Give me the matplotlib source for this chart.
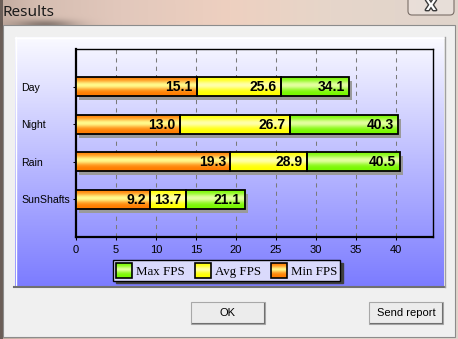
import numpy as np
import matplotlib
matplotlib.use('Agg')
import matplotlib.pyplot as plt
from matplotlib.patches import Rectangle, FancyBboxPatch, Patch
from matplotlib.legend_handler import HandlerBase
import matplotlib.transforms as mtransforms
import matplotlib.patheffects as pe

# ---------------- data ----------------
categories = ['Day', 'Night', 'Rain', 'SunShafts']
min_fps = [15.1, 13.0, 19.3, 9.2]
avg_fps = [25.6, 26.7, 28.9, 13.7]
max_fps = [34.1, 40.3, 40.5, 21.1]
x_ticks = [0, 5, 10, 15, 20, 25, 30, 35, 40]
series_labels = ['Max FPS', 'Avg FPS', 'Min FPS']
window_title = 'Results'
button_labels = ['OK', 'Send report']

# ---------------- styles ----------------
W, H = 458, 339
C_MIN = ((255, 125, 0), (255, 250, 140))
C_AVG = ((255, 255, 0), (255, 255, 170))
C_MAX = ((120, 248, 0), (228, 255, 160))


def grad_colors(edge, center, n=40):
    t = np.linspace(0, 1, n)
    f = np.exp(-((t - 0.42) / 0.24) ** 2)
    e = np.array(edge) / 255.0
    c = np.array(center) / 255.0
    return e[None, :] + (c - e)[None, :] * f[:, None]


fig = plt.figure(figsize=(W / 100, H / 100), dpi=100)

# ---------------- window chrome ----------------
bg = fig.add_axes([0, 0, 1, 1])
bg.set_xlim(0, W)
bg.set_ylim(H, 0)
bg.axis('off')

xs = np.arange(W)
cx = [0, 40, 120, 230, 330, 458]
img = np.zeros((H, W, 3))
for k, vals in enumerate(([195, 214, 226, 238, 230, 224],
                          [172, 190, 200, 208, 214, 212],
                          [160, 178, 188, 192, 202, 204])):
    img[:, :, k] = np.interp(xs, cx, vals)[None, :] / 255.0
yy, xx = np.mgrid[0:H, 0:W]
blob = np.exp(-(((xx - 45) / 30.0) ** 2 + ((yy - 24) / 5.0) ** 2))
img *= (1 - 0.35 * blob)[:, :, None]
img[:, :3, :] *= 0.55
img = np.clip(img, 0, 1)
bg.imshow(img, extent=(0, W, H, 0), aspect='auto', zorder=0)

bg.add_patch(Rectangle((3, 25), 452, 312, facecolor='#f0f0f0',
                       edgecolor='#8c8c8c', lw=0.8, zorder=1))

# close button
bg.add_patch(FancyBboxPatch((408, -8), 46, 23, boxstyle='round,pad=0,rounding_size=4',
                            facecolor=(1, 1, 1, 0.25), edgecolor='#7a6e68', lw=0.8, zorder=1))
bg.text(431, 6, 'X', ha='center', va='center', fontsize=10, fontweight='bold',
        color='white', family='DejaVu Sans', zorder=2,
        path_effects=[pe.withStroke(linewidth=2, foreground='#3a3a3a')])

bg.text(3, 16, window_title, ha='left', va='baseline', fontsize=11,
        family='Noto Sans', color='#1a1a1a', zorder=2)

# chart panel
pg = np.linspace(0, 1, 200)
top = np.array([250, 250, 255]) / 255.0
bot = np.array([124, 124, 255]) / 255.0
panel = top[None, :] + (bot - top)[None, :] * pg[:, None]
bg.imshow(panel[:, None, :], extent=(15, 444, 286, 37), aspect='auto', zorder=2)
bg.plot([15.5, 15.5], [37, 286], color='white', lw=1, zorder=3)
bg.plot([15, 444], [37.5, 37.5], color='white', lw=1, zorder=3)
bg.plot([14, 445], [286.5, 286.5], color='#707070', lw=1.5, zorder=3)
bg.plot([444.5, 444.5], [37, 287], color='#a0a0a0', lw=1, zorder=3)

# buttons
for (bx, label) in zip([191, 369], button_labels):
    bg.add_patch(Rectangle((bx, 302), 74, 22, facecolor='#ececec',
                           edgecolor='#a8a8a8', lw=0.8, zorder=3))
    bg.plot([bx + 1, bx + 73], [323.2, 323.2], color='#707070', lw=0.8, zorder=4)
    bg.plot([bx + 73.2, bx + 73.2], [303, 323], color='#707070', lw=0.8, zorder=4)
    bg.text(bx + 37, 313.5, label, ha='center', va='center', fontsize=8,
            family='Liberation Sans', color='black', zorder=4)

# ---------------- chart ----------------
ax = fig.add_axes([76 / W, 1 - 237 / H, 357 / W, 188 / H])
ax.set_zorder(2)
ax.patch.set_visible(False)

ypos = np.arange(len(categories))[::-1]
bar_h = 0.5

for x in x_ticks[1:]:
    ax.axvline(x, color='#7a7a7a', lw=0.75, dashes=(4, 4), zorder=1)

shadow_tr = mtransforms.offset_copy(ax.transData, fig=fig, x=3, y=-4, units='dots')
ax.barh(ypos, max_fps, height=bar_h, color='#9a9a9a', transform=shadow_tr,
        lw=0, zorder=2)

mins = np.array(min_fps)
avgs = np.array(avg_fps)
maxs = np.array(max_fps)
segments = [
    (np.zeros_like(mins), mins, C_MIN, min_fps),
    (mins, avgs - mins, C_AVG, avg_fps),
    (avgs, maxs - avgs, C_MAX, max_fps),
]
for lefts, widths, cols, vals in segments:
    bc = ax.barh(ypos, widths, left=lefts, height=bar_h, facecolor='none',
                 edgecolor='black', lw=1.3, zorder=4)
    g = grad_colors(*cols)[:, None, :]
    for p in bc.patches:
        bb = p.get_bbox()
        ax.imshow(g, extent=(bb.x0, bb.x1, bb.y0, bb.y1), aspect='auto',
                  interpolation='bilinear', zorder=3)
    for y, v in zip(ypos, vals):
        ax.annotate(f'{v:.1f}', xy=(v, y), xytext=(-3, -0.5), textcoords='offset points',
                    ha='right', va='center', fontsize=10, fontweight='bold',
                    family='Liberation Sans', color='black', zorder=5)

ax.set_xlim(0, 357 / 8)
ax.set_ylim(-1, 4)
ax.set_xticks(x_ticks)
ax.set_xticklabels([str(t) for t in x_ticks], family='Liberation Sans', fontsize=8)
ax.set_yticks(ypos)
ax.set_yticklabels(categories, family='Liberation Sans', fontsize=7.6)
for lab in ax.get_yticklabels():
    lab.set_horizontalalignment('left')
ax.tick_params(axis='x', direction='out', length=2.2, width=0.75, pad=3.6, colors='black')
ax.tick_params(axis='y', direction='out', length=2.2, width=0.75, pad=37.4, colors='black')
for s in ['left', 'bottom']:
    ax.spines[s].set_linewidth(1.6)
for s in ['top', 'right']:
    ax.spines[s].set_linewidth(1.0)
for s in ax.spines.values():
    s.set_color('black')


# ---------------- legend ----------------
class GradHandler(HandlerBase):
    def __init__(self, cols):
        super().__init__()
        self.cols = cols

    def create_artists(self, legend, orig_handle, xdescent, ydescent, width, height,
                       fontsize, trans):
        n = 16
        colors = grad_colors(*self.cols, n=n)
        arts = []
        for i in range(n):
            y0 = -ydescent + height * (1 - (i + 1) / n)
            arts.append(Rectangle((-xdescent, y0), width, height / n + 0.05,
                                  facecolor=colors[i], lw=0, transform=trans))
        arts.append(Rectangle((-xdescent, -ydescent), width, height, facecolor='none',
                              edgecolor='black', lw=1.2, transform=trans))
        return arts


handles = [Patch(), Patch(), Patch()]
hmap = {handles[0]: GradHandler(C_MAX), handles[1]: GradHandler(C_AVG),
        handles[2]: GradHandler(C_MIN)}
leg = fig.legend(handles, series_labels, loc='center',
                 bbox_to_anchor=(226.5 / W, 1 - 270.5 / H), ncol=3,
                 prop={'family': 'Liberation Serif', 'size': 9.3},
                 frameon=True, fancybox=False, edgecolor='black', facecolor='#dadafc',
                 framealpha=1, handlelength=1.25, handleheight=1.35, handletextpad=0.3,
                 columnspacing=0.8, borderpad=0.22, borderaxespad=0,
                 shadow={'color': '#404040', 'alpha': 1}, handler_map=hmap)
leg.get_frame().set_linewidth(1.0)
leg.set_zorder(6)

fig.savefig('out.png', dpi=100)
